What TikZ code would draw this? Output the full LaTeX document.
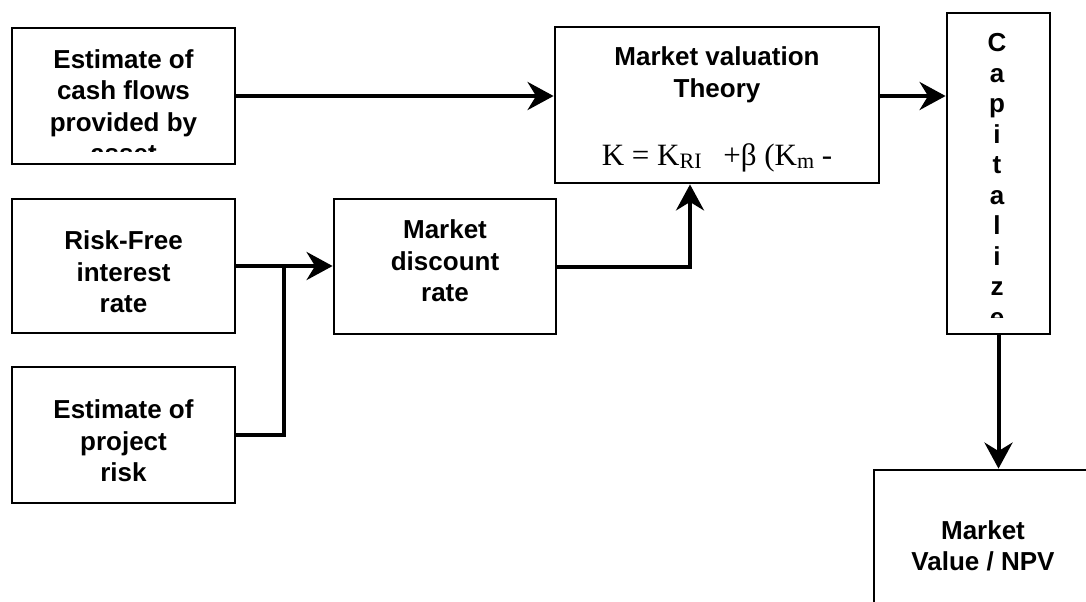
\documentclass[tikz,border=0pt]{standalone}
\usepackage{fontspec}
\setmainfont{Liberation Sans}
\newfontfamily\formfont{Liberation Serif}
\usetikzlibrary{calc, positioning}
\usetikzlibrary{arrows.meta}

\tikzset{
  box/.style={draw, line width=1.4pt, inner sep=0pt},
  boxtext/.style={inner sep=0pt, align=center,
    font=\bfseries\fontsize{13}{15.75}\selectfont},
  link/.style={line width=2pt},
  flow/.style={line width=2pt, -{Stealth[length=13pt, width=14pt]}},
}

\begin{document}
\begin{tikzpicture}[x=0.5pt, y=-0.5pt]
\def\subsz{\fontsize{11}{12}\selectfont}
\clip (0,0) rectangle (1086,601);
% left column
\node[box, minimum width=111.5pt, minimum height=68pt] (cash) at (123.5,96) {};
\begin{scope}
  \clip (12,28) rectangle (235,151);
  \node[boxtext] (cashtxt) at (123.5,106) {Estimate of\\cash flows\\provided by\\asset};
\end{scope}
\node[box, minimum width=111.5pt, minimum height=67pt] (riskfree) at (123.5,266) {};
\node[boxtext] (riskfreetxt) at (123.5,272) {Risk-Free\\interest\\rate};
\node[box, minimum width=111.5pt, minimum height=68pt] (projrisk) at (123.5,435) {};
\node[boxtext] (projrisktxt) at (123.5,441) {Estimate of\\project\\risk};
% middle
\node[box, minimum width=111pt, minimum height=67.5pt] (discount) at (445,266.5) {};
\node[boxtext] (discounttxt) at (445,261) {Market\\discount\\rate};
\node[box, minimum width=162pt, minimum height=78pt] (valuation) at (717,105) {};
\node[boxtext] (valtitle) at (717,75) {Market valuation\\Theory};
\node[inner sep=0pt, font=\formfont\fontsize{15.5}{18}\selectfont] (formula) at (717,158)
  {K = K\raisebox{-1.5pt}{\subsz RI}\hspace{0.7em}+β (K\raisebox{-1.5pt}{\subsz m} -};
% right column
\node[box, minimum width=51.5pt, minimum height=160.5pt] (capital) at (998.5,173.5) {};
\begin{scope}
  \clip (947,13) rectangle (1050,317);
  \node[boxtext, font=\bfseries\fontsize{13}{15.25}\selectfont] (captxt) at (997,180)
    {C\\a\\p\\i\\t\\a\\l\\i\\z\\e};
\end{scope}
\node[box, minimum width=109pt, minimum height=76pt] (npv) at (983,546) {};
\node[boxtext] (npvtxt) at (983,546) {Market\\Value / NPV};
% connectors
\coordinate (join) at (284,267);
\draw[flow] (cash.east) -- (cash.east -| valuation.west);
\draw[flow] (riskfree.east) -- (riskfree.east -| discount.west);
\draw[link] (projrisk.east) -| (join);
\draw[flow] (discount.east) -| ([xshift=-13.5pt]valuation.south);
\draw[flow] (cash.east -| valuation.east) -- (cash.east -| capital.west);
\draw[flow] (capital.south) -- (capital.south |- npv.north);
\end{tikzpicture}
\end{document}
